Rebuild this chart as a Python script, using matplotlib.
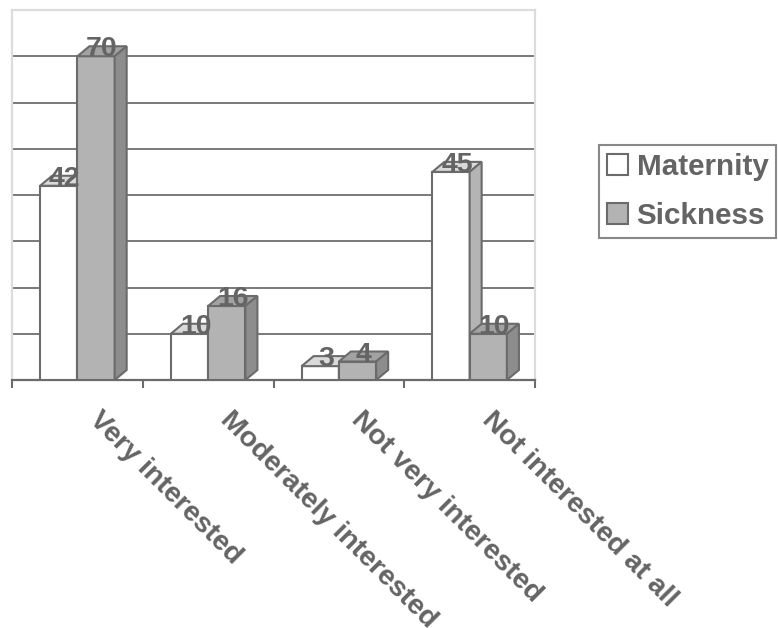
import matplotlib
matplotlib.use("Agg")
import matplotlib.pyplot as plt
from matplotlib.patches import Polygon, Patch
from matplotlib import transforms

plt.rcParams['font.family'] = ['Liberation Sans', 'DejaVu Sans']

categories = ["Very interested", "Moderately interested",
              "Not very interested", "Not interested at all"]
series_names = ["Maternity", "Sickness"]
maternity = [42, 10, 3, 45]
sickness = [70, 16, 4, 10]

EDGE = "#6b6b6b"
TEXT = "#646464"
# (front, top, side) face colours for each series
faces = {
    "Maternity": ("#ffffff", "#dadada", "#b4b4b4"),
    "Sickness": ("#b3b3b3", "#a2a2a2", "#8d8d8d"),
}

W, H, DPI = 778, 628, 100
fig = plt.figure(figsize=(W / DPI, H / DPI), dpi=DPI)
ax = fig.add_axes([12 / W, (H - 380) / H, 523 / W, 370 / H])
ax.set_xlim(-0.5, len(categories) - 0.5)
ax.set_ylim(0, 80)

# gridlines
ax.set_yticks(range(10, 80, 10))
ax.yaxis.grid(True, color="#6e6e6e", linewidth=1.3)
ax.tick_params(axis="y", length=0, labelleft=False)
ax.set_axisbelow(True)

# category boundary ticks on the x axis
ax.set_xticks([i - 0.5 for i in range(len(categories) + 1)], minor=True)
ax.set_xticks([])
ax.tick_params(axis="x", which="minor", direction="out", length=6,
               width=1.5, color=EDGE, labelbottom=False)

for side in ("left", "top", "right"):
    ax.spines[side].set_color("#dcdcdc")
    ax.spines[side].set_linewidth(1.6)
ax.spines["bottom"].set_color(EDGE)
ax.spines["bottom"].set_linewidth(1.6)

bar_w = 0.285
dx = 0.092
dy = 2.16


def draw_box(x0, h, colors, z):
    front, top, side = colors
    kw = dict(edgecolor=EDGE, linewidth=1.5, joinstyle="miter", zorder=z)
    ax.add_patch(Polygon([(x0, 0), (x0 + bar_w, 0), (x0 + bar_w, h), (x0, h)],
                         closed=True, facecolor=front, **kw))
    ax.add_patch(Polygon([(x0, h), (x0 + bar_w, h), (x0 + bar_w + dx, h + dy),
                          (x0 + dx, h + dy)], closed=True, facecolor=top, **kw))
    ax.add_patch(Polygon([(x0 + bar_w, 0), (x0 + bar_w + dx, dy),
                          (x0 + bar_w + dx, h + dy), (x0 + bar_w, h)],
                         closed=True, facecolor=side, **kw))


for i in range(len(categories)):
    for k, (name, vals) in enumerate(zip(series_names, [maternity, sickness])):
        x0 = i - bar_w + k * bar_w
        draw_box(x0, vals[i], faces[name], 3 + 2 * i + k * 0.5)
        ax.text(x0 + bar_w / 2 + dx / 2, vals[i], str(vals[i]),
                ha="center", va="baseline", fontsize=20.5, fontweight="bold",
                color=TEXT, zorder=20)

# rotated category labels
lab_tr = transforms.offset_copy(ax.get_xaxis_transform(), fig=fig,
                                x=16, y=-36, units="dots")
for i, c in enumerate(categories):
    ax.text(i, 0, c, transform=lab_tr, rotation=-45, rotation_mode="anchor",
            ha="left", va="center", fontsize=20.5, fontweight="bold",
            color=TEXT, clip_on=False)

handles = [Patch(facecolor=faces[n][0], edgecolor=EDGE, linewidth=1.5)
           for n in series_names]
leg = fig.legend(handles, series_names, loc="upper left",
                 bbox_to_anchor=(599 / W, 1 - 145 / H),
                 prop={"weight": "bold", "size": 21.3},
                 frameon=True, fancybox=False, shadow=False,
                 handlelength=0.7, handleheight=0.7, handletextpad=0.3,
                 labelspacing=0.7, borderpad=0.27, borderaxespad=0)
leg.get_frame().set_edgecolor(EDGE)
leg.get_frame().set_linewidth(1.5)
for t in leg.get_texts():
    t.set_color(TEXT)

fig.savefig("out.png", dpi=DPI)
